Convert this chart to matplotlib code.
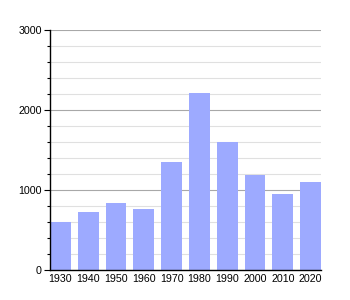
import matplotlib.pyplot as plt
from matplotlib.ticker import MultipleLocator

years = ["1930", "1940", "1950", "1960", "1970", "1980", "1990", "2000", "2010", "2020"]
population = [604, 725, 841, 762, 1350, 2212, 1600, 1191, 954, 1100]

plt.rcParams["font.family"] = ["Liberation Sans", "DejaVu Sans"]

fig = plt.figure(figsize=(3.5, 3.0), dpi=100)
ax = fig.add_axes([50 / 350, 30 / 300, 271 / 350, 240 / 300])

ax.bar(range(len(years)), population, width=0.75, color="#9daaff", zorder=3)

ax.set_xlim(-0.375, len(years) - 0.625)
ax.set_ylim(0, 3000)
ax.set_xticks(range(len(years)))
ax.set_xticklabels(years)
ax.yaxis.set_major_locator(MultipleLocator(1000))
ax.yaxis.set_minor_locator(MultipleLocator(200))

ax.grid(axis="y", which="minor", color="#e0e0e0", linewidth=0.8, zorder=0)
ax.grid(axis="y", which="major", color="#a8a8a8", linewidth=0.8, zorder=1)

for side in ("top", "right"):
    ax.spines[side].set_visible(False)
ax.spines["left"].set_linewidth(1.0)
ax.spines["bottom"].set_linewidth(1.0)
ax.spines["left"].set_zorder(4)
ax.spines["bottom"].set_zorder(4)

ax.tick_params(axis="x", length=0, labelsize=7.7, pad=3)
ax.tick_params(axis="y", which="major", length=4, width=0.8, labelsize=7.7, pad=2)
ax.tick_params(axis="y", which="minor", length=2, width=0.8)

fig.savefig("out.png", dpi=100)
